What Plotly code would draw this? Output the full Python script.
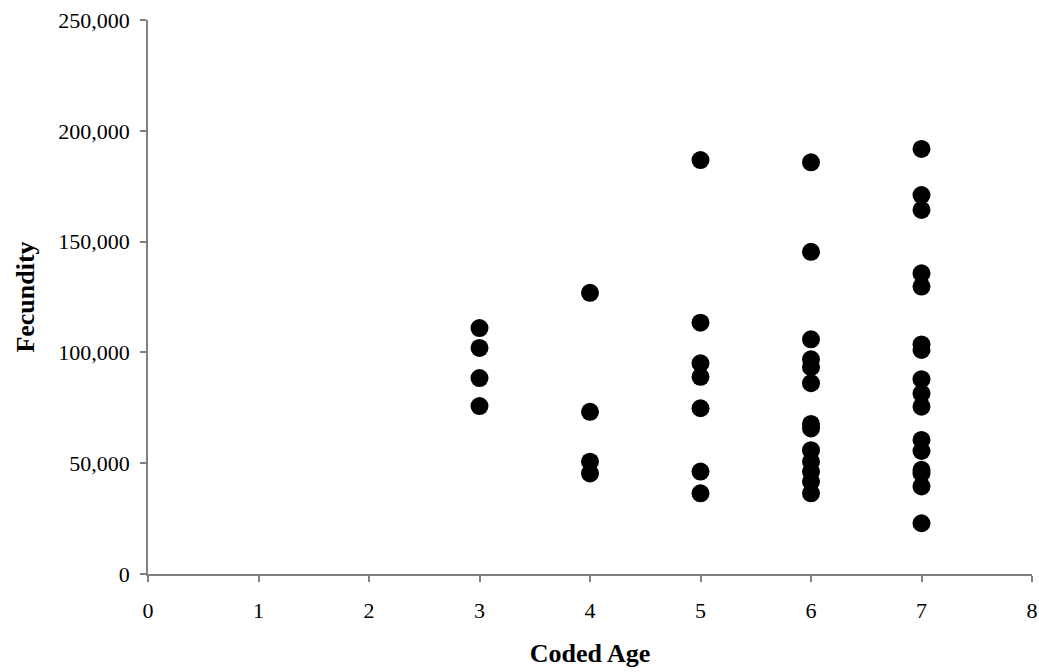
import plotly.graph_objects as go

age3 = [111000, 102000, 88400, 75800]
age4 = [126900, 73200, 50700, 45400]
age5 = [186800, 113400, 95100, 89000, 74800, 46200, 36400]
age6 = [185800, 145400, 105900, 96900, 93300, 86100, 67700, 65700,
        55900, 50700, 46200, 41700, 36400]
age7 = [191800, 171000, 164300, 135700, 129700, 103600, 101100, 87900,
        81500, 75500, 60500, 55500, 47000, 45500, 39500, 22900]

groups = {3: age3, 4: age4, 5: age5, 6: age6, 7: age7}
xs, ys = [], []
for k, vals in groups.items():
    xs += [k] * len(vals)
    ys += vals

fig = go.Figure(go.Scatter(
    x=xs, y=ys, mode="markers",
    marker=dict(color="black", size=18, line=dict(width=0)),
    cliponaxis=False, showlegend=False))

font = "Liberation Serif, Times New Roman, serif"
fig.update_layout(
    width=1039, height=672,
    margin=dict(l=148, r=7, t=20, b=98, autoexpand=False),
    paper_bgcolor="white", plot_bgcolor="white",
    font=dict(family=font, size=22, color="black"),
    xaxis=dict(range=[0, 8], dtick=1, tick0=0, showgrid=False, zeroline=False,
               showline=True, linecolor="#808080", linewidth=1.5,
               ticks="outside", ticklen=6, tickcolor="#808080", tickwidth=1.5,
               ticklabelstandoff=10, automargin=False,
               title=dict(text="<b>Coded Age</b>", font=dict(size=26), standoff=22)),
    yaxis=dict(range=[0, 250000], dtick=50000, tick0=0, tickformat=",",
               showgrid=False, zeroline=False,
               showline=True, linecolor="#808080", linewidth=1.5,
               ticks="outside", ticklen=6, tickcolor="#808080", tickwidth=1.5,
               ticklabelstandoff=6, automargin=False,
               title=dict(text="<b>Fecundity</b>", font=dict(size=26), standoff=16)),
)
fig.write_html("out.html")
